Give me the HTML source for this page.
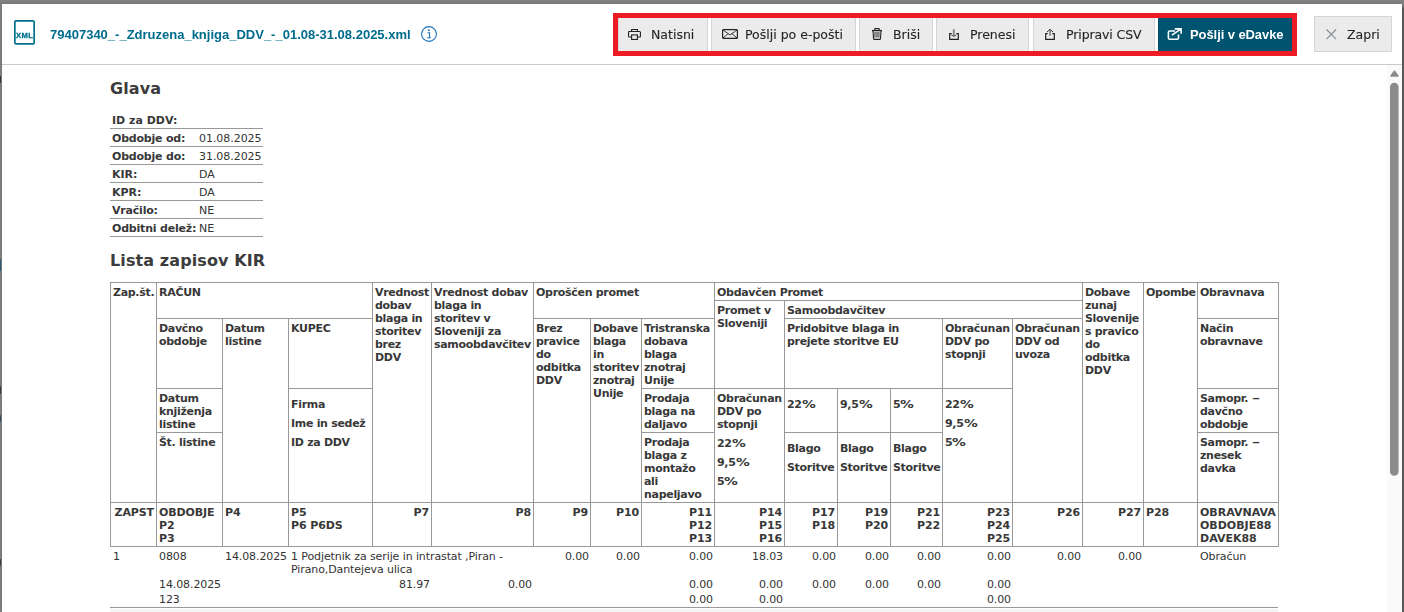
<!DOCTYPE html>
<html lang="sl"><head><meta charset="utf-8"><title>Zdruzena knjiga DDV</title>
<style>
html,body{margin:0;padding:0}
body{width:1404px;height:612px;overflow:hidden;background:#808080;position:relative;font-family:"Liberation Sans",sans-serif}
.edge{position:absolute;left:1402px;top:0;width:2px;height:612px;background:linear-gradient(#808080 0,#808080 4px,#5b5b5b 9px,#5b5b5b 100%)}
.mk{position:absolute;left:0;width:1px;opacity:.75;border-radius:0 1px 1px 0}
.modal{position:absolute;left:2px;top:4px;width:1400px;height:608px;background:#fff;box-shadow:0 0 2px rgba(0,0,0,.2);overflow:hidden}
.hdr{position:absolute;left:0;top:0;width:1400px;height:60px;border-bottom:1px solid #c9c9c9;will-change:transform}
.xml{position:absolute;left:12px;top:16px}
.fname{position:absolute;left:48px;top:23px;font:bold 13px/16px "Liberation Sans",sans-serif;color:#006c8c;white-space:nowrap}
.info{position:absolute;left:419px;top:22px}
.redbox{position:absolute;left:611px;top:9px;width:674px;height:33px;border:5px solid #ed1c24;pointer-events:none}
.btn{position:absolute;top:12px;height:36px;box-sizing:border-box;background:#ebebeb;border:1px solid #d3d6d9;font:12.5px/16px "DejaVu Sans","Liberation Sans",sans-serif;color:#262626;-webkit-text-stroke:.12px #262626;white-space:nowrap}
.btn span{position:absolute;top:10px}
.btn svg{position:absolute}
.btn.pri{background:#00546f;border-color:#00546f;color:#fff;-webkit-text-stroke:0;font:bold 13px/16px "Liberation Sans",sans-serif;letter-spacing:-.08px}
.bodyw{position:absolute;left:0;top:61px;width:1400px;height:547px;overflow:hidden;background:#fff}
.body{position:absolute;left:-2px;top:-65px;width:1404px;height:612px;font-family:"DejaVu Sans","Liberation Sans",sans-serif;color:#333}
h2{position:absolute;margin:0;font:bold 16px/20px "DejaVu Sans",sans-serif;letter-spacing:.1px;color:#3c3c3c;white-space:nowrap}
.gr{position:absolute;left:110px;width:153px;height:17px;border-bottom:1px solid #999;font-size:11px;line-height:13px;white-space:nowrap}
.gr b{color:#383838;position:absolute;left:2px;top:3px;letter-spacing:-.2px}
.gr b.z{letter-spacing:0}
.gr span{position:absolute;left:89px;top:3px;letter-spacing:-.05px}
.c{position:absolute;border:1px solid #999;color:#383838;font:bold 11px/13px "DejaVu Sans",sans-serif;letter-spacing:-.3px;white-space:nowrap;padding:3px 2px 0 2px;box-sizing:border-box;overflow:hidden}
.pc{display:inline-block;transform:scaleX(1.25);transform-origin:0 50%}
.nd{display:inline-block;transform:scaleX(1.45);transform-origin:0 50%}
.c>p{margin:6px 0}
.c.u{letter-spacing:-.1px}
.c.u0{letter-spacing:0}
.c.r{text-align:right}
.d{position:absolute;font:11px/13px "DejaVu Sans",sans-serif;letter-spacing:-.1px;white-space:nowrap}
.d.r{text-align:right}
.rowline{position:absolute;left:110px;top:607px;width:1168px;height:1px;background:#999}
.nextrow{position:absolute;left:110px;top:609px;width:1168px;height:3px;background:#f4f4f4}
.sb{position:absolute;left:1387px;top:65px;width:15px;height:547px;background:#fafafa}
.sb svg{position:absolute;left:0;top:0}
.in{position:absolute;left:3px;top:3px;right:3px}
</style></head><body>
<div class="edge"></div><div class="mk" style="top:76px;height:7px;background:#15151f"></div><div class="mk" style="top:259px;height:12px;background:#0b4f74"></div><div class="mk" style="top:386px;height:8px;background:#2a1e1a"></div><div class="mk" style="top:415px;height:7px;background:#173a5c"></div><div class="mk" style="top:559px;height:7px;background:#222230"></div>
<div class="modal">
<div class="hdr">
<svg class="xml" width="21" height="25" viewBox="0 0 21 25"><rect x=".85" y=".85" width="19.3" height="23" rx="1.2" fill="none" stroke="#00708f" stroke-width="1.7"/><text x="10.6" y="17.5" text-anchor="middle" font-family="Liberation Sans, sans-serif" font-weight="bold" font-size="7.6" letter-spacing=".35" fill="#00708f" stroke="#00708f" stroke-width=".3">XML</text></svg>
<div class="fname">79407340_-_Zdruzena_knjiga_DDV_-_01.08-31.08.2025.xml</div>
<svg class="info" width="16" height="16" viewBox="0 0 16 16"><circle cx="8" cy="8" r="7.4" fill="none" stroke="#1a73b9" stroke-width="1.1"/><circle cx="7.9" cy="4.3" r="0.95" fill="#1a73b9"/><path d="M6.5 6.7h2v4.9M6.2 11.8h3.7" fill="none" stroke="#1a73b9" stroke-width="1.1"/></svg>
<div class="btn" style="left:616px;width:90px"><svg style="left:9px;top:12px" class="i" width="13" height="11" viewBox="0 0 13 11" fill="none" stroke="#222" stroke-width="1.1"><path d="M3.6 2.4V.55h5.8V2.4M3.4 8H1.3a.75.75 0 0 1-.75-.75V3.3a.75.75 0 0 1 .75-.75h10.4a.75.75 0 0 1 .75.75v3.95a.75.75 0 0 1-.75.75H9.6"/><rect x="3.6" y="5.9" width="5.8" height="4.55"/></svg><span style="left:32px">Natisni</span></div><div class="btn" style="left:709px;width:145px"><svg style="left:10px;top:12px" class="i" width="16" height="10" viewBox="0 0 16 10" fill="none" stroke="#222" stroke-width="1.2"><rect x=".6" y=".6" width="14.8" height="8.8" rx="1"/><path d="M.9.9L8 6l7.1-5.1M.9 9.1l5.4-4.6M15.1 9.1L9.7 4.5" stroke-width=".9"/></svg><span style="left:33px">Pošlji po e-pošti</span></div><div class="btn" style="left:857px;width:74px"><svg style="left:12px;top:11px" class="i" width="10" height="12" viewBox="0 0 10 12" fill="none" stroke="#222" stroke-width="1.1"><path d="M3 4v5.4M5 4v5.4M6.8 4v5.4" stroke="#7a7a7a" stroke-width="1.7"/><path d="M2.7 2.4V1.2q0-.6.6-.6h3.4q.6 0 .6.6v1.2"/><path d="M0 2.6h10" stroke-width="1.3"/><path d="M1 3l.55 7.7q.05.7.7.7h5.5q.65 0 .7-.7L9 3"/></svg><span style="left:33px">Briši</span></div><div class="btn" style="left:934px;width:93px"><svg style="left:12px;top:12px" class="i" width="10" height="11" viewBox="0 0 10 11" fill="none" stroke="#222" stroke-width="1.2"><path d="M4.75 .2v6.6" stroke="#7a7a7a" stroke-width="1.7"/><path d="M2.3 5.9l2.45 1.5L7.2 5.9" stroke="#444" stroke-width="1"/><path d="M2.7 4.6H.7v5.7h8.6V4.6H7.3"/></svg><span style="left:33px">Prenesi</span></div><div class="btn" style="left:1031px;width:122px"><svg style="left:11px;top:12px" class="i" width="10" height="11" viewBox="0 0 10 11" fill="none" stroke="#222" stroke-width="1.2"><path d="M5 6.8V.6M1.9 3L5 .4 8.1 3" stroke="#3a3a3a" stroke-width="1"/><path d="M2.7 4.6H.7v5.7h8.6V4.6H7.3"/></svg><span style="left:32px"><span style="position:static;letter-spacing:-.1px">Pripravi CSV</span></span></div><div class="btn pri" style="left:1156px;width:134px"><svg style="left:8px;top:10px" class="i" width="16" height="14" viewBox="0 0 16 14" fill="none" stroke="#fff" stroke-width="1.6"><path d="M8 4H2.7a1.3 1.3 0 0 0-1.3 1.3v5.6a1.3 1.3 0 0 0 1.3 1.3h7.5a1.3 1.3 0 0 0 1.3-1.3V7.6"/><path d="M7.7 1.9h6.4v4.9M14.1 1.9L4.9 8.2"/></svg><span style="left:31px">Pošlji v eDavke</span></div><div class="redbox"></div><div class="btn cl" style="left:1312px;width:78px"><svg style="left:11px;top:12px" class="i" width="11" height="11" viewBox="0 0 11 11" fill="none" stroke="#898e93" stroke-width="1.25"><path d="M.5.5l9.6 9.6M10.1.5L.5 10.1"/></svg><span style="left:32px">Zapri</span></div>
</div>
<div class="bodyw"><div class="body">
<h2 style="left:110px;top:79px">Glava</h2>
<div class="gr" style="top:111px"><b class=z>ID za DDV:</b><span></span></div><div class="gr" style="top:129px"><b>Obdobje od:</b><span>01.08.2025</span></div><div class="gr" style="top:147px"><b>Obdobje do:</b><span>31.08.2025</span></div><div class="gr" style="top:165px"><b class=z>KIR:</b><span>DA</span></div><div class="gr" style="top:183px"><b class=z>KPR:</b><span>DA</span></div><div class="gr" style="top:201px"><b>Vračilo:</b><span>NE</span></div><div class="gr" style="top:219px"><b>Odbitni delež:</b><span>NE</span></div>
<h2 style="left:110px;top:251px">Lista zapisov KIR</h2>
<div class="c" style="left:110px;top:282px;width:47px;height:221px">Zap.št.</div><div class="c" style="left:156px;top:282px;width:217px;height:37px">RAČUN</div><div class="c" style="left:156px;top:318px;width:67px;height:71px">Davčno<br>obdobje</div><div class="c" style="left:156px;top:388px;width:67px;height:45px">Datum<br>knjiženja<br>listine</div><div class="c" style="left:156px;top:432px;width:67px;height:71px">Št. listine</div><div class="c" style="left:222px;top:318px;width:67px;height:185px">Datum<br>listine</div><div class="c" style="left:288px;top:318px;width:85px;height:71px">KUPEC</div><div class="c" style="left:288px;top:388px;width:85px;height:115px"><p>Firma</p><p>Ime in sedež</p><p>ID za DDV</p></div><div class="c" style="left:372px;top:282px;width:60px;height:221px">Vrednost<br>dobav<br>blaga in<br>storitev<br>brez<br>DDV</div><div class="c" style="left:431px;top:282px;width:103px;height:221px">Vrednost dobav<br>blaga in<br>storitev v<br>Sloveniji za<br>samoobdavčitev</div><div class="c" style="left:533px;top:282px;width:182px;height:37px">Oproščen promet</div><div class="c" style="left:533px;top:318px;width:58px;height:185px">Brez<br>pravice<br>do<br>odbitka<br>DDV</div><div class="c" style="left:590px;top:318px;width:52px;height:185px">Dobave<br>blaga<br>in<br>storitev<br>znotraj<br>Unije</div><div class="c" style="left:641px;top:318px;width:74px;height:71px">Tristranska<br>dobava<br>blaga<br>znotraj<br>Unije</div><div class="c" style="left:641px;top:388px;width:74px;height:45px">Prodaja<br>blaga na<br>daljavo</div><div class="c" style="left:641px;top:432px;width:74px;height:71px">Prodaja<br>blaga z<br>montažo<br>ali<br>napeljavo</div><div class="c" style="left:714px;top:282px;width:369px;height:19px">Obdavčen Promet</div><div class="c" style="left:714px;top:300px;width:71px;height:89px">Promet v<br>Sloveniji</div><div class="c" style="left:714px;top:388px;width:71px;height:115px">Obračunan<br>DDV po<br>stopnji<p>22<span class="pc">%</span></p><p>9,5<span class="pc">%</span></p><p>5<span class="pc">%</span></p></div><div class="c" style="left:784px;top:300px;width:299px;height:19px">Samoobdavčitev</div><div class="c" style="left:784px;top:318px;width:159px;height:71px">Pridobitve blaga in<br>prejete storitve EU</div><div class="c" style="left:784px;top:388px;width:54px;height:45px"><p>22<span class="pc">%</span></p></div><div class="c" style="left:837px;top:388px;width:54px;height:45px"><p>9,5<span class="pc">%</span></p></div><div class="c" style="left:890px;top:388px;width:53px;height:45px"><p>5<span class="pc">%</span></p></div><div class="c" style="left:784px;top:432px;width:54px;height:71px"><p>Blago</p><p>Storitve</p></div><div class="c" style="left:837px;top:432px;width:54px;height:71px"><p>Blago</p><p>Storitve</p></div><div class="c" style="left:890px;top:432px;width:53px;height:71px"><p>Blago</p><p>Storitve</p></div><div class="c" style="left:942px;top:318px;width:71px;height:71px">Obračunan<br>DDV po<br>stopnji</div><div class="c" style="left:942px;top:388px;width:71px;height:115px"><p>22<span class="pc">%</span></p><p>9,5<span class="pc">%</span></p><p>5<span class="pc">%</span></p></div><div class="c" style="left:1012px;top:318px;width:71px;height:185px">Obračunan<br>DDV od<br>uvoza</div><div class="c" style="left:1082px;top:282px;width:62px;height:221px">Dobave<br>zunaj<br>Slovenije<br>s pravico<br>do<br>odbitka<br>DDV</div><div class="c" style="left:1143px;top:282px;width:55px;height:221px">Opombe</div><div class="c" style="left:1197px;top:282px;width:82px;height:37px">Obravnava</div><div class="c" style="left:1197px;top:318px;width:82px;height:71px">Način<br>obravnave</div><div class="c" style="left:1197px;top:388px;width:82px;height:45px">Samopr. <span class="nd">–</span><br>davčno<br>obdobje</div><div class="c" style="left:1197px;top:432px;width:82px;height:71px">Samopr. <span class="nd">–</span><br>znesek<br>davka</div><div class="c u r" style="left:110px;top:502px;width:47px;height:45px">ZAPST</div><div class="c u" style="left:156px;top:502px;width:67px;height:45px">OBDOBJE<br>P2<br>P3</div><div class="c u" style="left:222px;top:502px;width:67px;height:45px">P4</div><div class="c u" style="left:288px;top:502px;width:85px;height:45px">P5<br>P6 P6DS</div><div class="c u r" style="left:372px;top:502px;width:60px;height:45px">P7</div><div class="c u r" style="left:431px;top:502px;width:103px;height:45px">P8</div><div class="c u r" style="left:533px;top:502px;width:58px;height:45px">P9</div><div class="c u r" style="left:590px;top:502px;width:52px;height:45px">P10</div><div class="c u r" style="left:641px;top:502px;width:74px;height:45px">P11<br>P12<br>P13</div><div class="c u r" style="left:714px;top:502px;width:71px;height:45px">P14<br>P15<br>P16</div><div class="c u r" style="left:784px;top:502px;width:54px;height:45px">P17<br>P18</div><div class="c u r" style="left:837px;top:502px;width:54px;height:45px">P19<br>P20</div><div class="c u r" style="left:890px;top:502px;width:53px;height:45px">P21<br>P22</div><div class="c u r" style="left:942px;top:502px;width:71px;height:45px">P23<br>P24<br>P25</div><div class="c u r" style="left:1012px;top:502px;width:71px;height:45px">P26</div><div class="c u r" style="left:1082px;top:502px;width:62px;height:45px">P27</div><div class="c u" style="left:1143px;top:502px;width:55px;height:45px">P28</div><div class="c u0" style="left:1197px;top:502px;width:82px;height:45px">OBRAVNAVA<br>OBDOBJE88<br>DAVEK88</div>
<div class="d" style="left:113px;top:550px">1</div><div class="d" style="left:159px;top:550px">0808</div><div class="d" style="left:225px;top:550px">14.08.2025</div><div class="d" style="left:291px;top:550px">1 Podjetnik za serije in intrastat ,Piran -<br>Pirano,Dantejeva ulica</div><div class="d r" style="left:534px;top:550px;width:55px">0.00</div><div class="d r" style="left:591px;top:550px;width:49px">0.00</div><div class="d r" style="left:642px;top:550px;width:71px">0.00</div><div class="d r" style="left:715px;top:550px;width:68px">18.03</div><div class="d r" style="left:785px;top:550px;width:51px">0.00</div><div class="d r" style="left:838px;top:550px;width:51px">0.00</div><div class="d r" style="left:891px;top:550px;width:50px">0.00</div><div class="d r" style="left:943px;top:550px;width:68px">0.00</div><div class="d r" style="left:1013px;top:550px;width:68px">0.00</div><div class="d r" style="left:1083px;top:550px;width:59px">0.00</div><div class="d" style="left:1200px;top:550px">Obračun</div><div class="d" style="left:159px;top:578px">14.08.2025</div><div class="d r" style="left:373px;top:578px;width:57px">81.97</div><div class="d r" style="left:432px;top:578px;width:100px">0.00</div><div class="d r" style="left:642px;top:578px;width:71px">0.00</div><div class="d r" style="left:715px;top:578px;width:68px">0.00</div><div class="d r" style="left:785px;top:578px;width:51px">0.00</div><div class="d r" style="left:838px;top:578px;width:51px">0.00</div><div class="d r" style="left:891px;top:578px;width:50px">0.00</div><div class="d r" style="left:943px;top:578px;width:68px">0.00</div><div class="d" style="left:159px;top:593px">123</div><div class="d r" style="left:642px;top:593px;width:71px">0.00</div><div class="d r" style="left:715px;top:593px;width:68px">0.00</div><div class="d r" style="left:943px;top:593px;width:68px">0.00</div>
<div class="rowline"></div><div class="nextrow"></div>
<div class="sb"><svg width="15" height="547" viewBox="0 0 15 547"><path d="M7.45 6.3L10.9 11H4z" fill="#8b8b8b" stroke="#8b8b8b" stroke-width="1.6" stroke-linejoin="round"/><rect x="3" y="17.8" width="8.6" height="393" rx="4.3" fill="#8b8b8b"/></svg></div>
</div></div>
</div>
</body></html>
